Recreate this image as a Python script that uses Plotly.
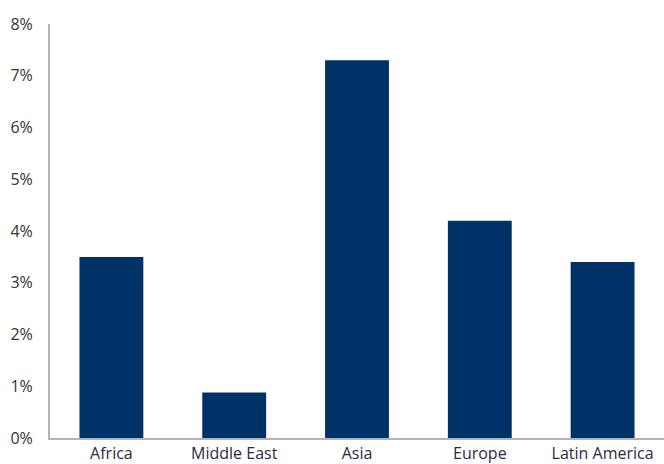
import plotly.graph_objects as go

categories = ["Africa", "Middle East", "Asia", "Europe", "Latin America"]
values = [3.5, 0.88, 7.3, 4.2, 3.4]
y_ticks = [0, 1, 2, 3, 4, 5, 6, 7, 8]
y_tick_labels = [f"{t}%" for t in y_ticks]

fig = go.Figure(
    go.Bar(
        x=categories,
        y=values,
        marker=dict(color="#003268", line=dict(width=0)),
        hoverinfo="x+y",
    )
)

fig.update_layout(
    width=664,
    height=464,
    margin=dict(l=50, r=0, t=24, b=23),
    paper_bgcolor="white",
    plot_bgcolor="white",
    bargap=0.48,
    showlegend=False,
    font=dict(family="Open Sans", size=16, color="#333333"),
)

fig.update_xaxes(
    range=[-0.5, 4.5],
    showline=True,
    linecolor="#b4b4b4",
    linewidth=2,
    showgrid=False,
    ticks="",
    tickfont=dict(size=16, color="#2b2b40"),
    fixedrange=True,
)

fig.update_yaxes(
    range=[0, 8],
    tickvals=y_ticks,
    ticktext=y_tick_labels,
    showline=True,
    linecolor="#b4b4b4",
    linewidth=2,
    showgrid=False,
    zeroline=False,
    ticks="",
    ticklabelstandoff=12,
    tickfont=dict(size=16, color="#333333"),
    fixedrange=True,
)

fig.write_html("out.html")
